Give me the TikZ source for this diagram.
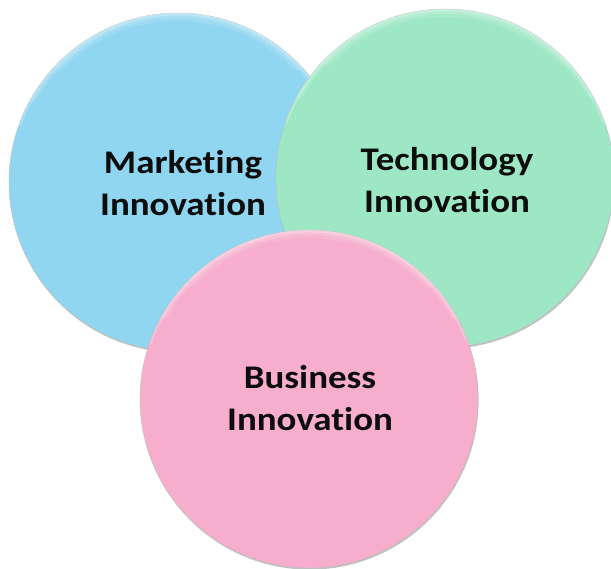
\documentclass[tikz,border=0pt]{standalone}
\usepackage{fontspec}
\setsansfont{Carlito}[Ligatures=NoCommon]
\usetikzlibrary{shadows,calc}

\definecolor{mktblue}{RGB}{144,214,241}
\definecolor{techgreen}{RGB}{158,231,197}
\definecolor{bizpink}{RGB}{246,174,204}

\tikzset{
  bubble/.style={circle, draw=black!25, line width=0.4pt, inner sep=0pt,
    minimum size=338pt,
    drop shadow={shadow xshift=0.6pt, shadow yshift=-1.6pt, opacity=0.35, fill=black!70}},
  lbl/.style={font=\sffamily\bfseries\fontsize{33}{41.5}\selectfont,
    align=center, text=black!95, inner sep=0pt, xscale=1.12},
  glow/.style={white, line cap=round},
}

% soft light band along the upper edge of a bubble
% (polar offsets with units are canvas directions, so 90 is up)
\newcommand{\rimlight}[1]{%
  \begin{scope}
    \clip (#1.center) circle (169pt);
    \draw[glow, line width=16pt, opacity=0.10]
      ($(#1.center)+(45:169pt)$) arc[start angle=45, end angle=135, radius=169pt];
    \draw[glow, line width=10pt, opacity=0.14]
      ($(#1.center)+(30:169pt)$) arc[start angle=30, end angle=150, radius=169pt];
    \draw[glow, line width=5pt, opacity=0.22]
      ($(#1.center)+(20:169pt)$) arc[start angle=20, end angle=160, radius=169pt];
  \end{scope}}

\begin{document}
\begin{tikzpicture}[x=1pt, y=-1pt]
  \useasboundingbox (0,0) rectangle (611,569);

  % the three overlapping circles, back to front
  \node[bubble, fill=mktblue] (mkt) at (178,182) {};
  \rimlight{mkt}
  \node[bubble, fill=techgreen] (tech) at (445,178) {};
  \rimlight{tech}
  \node[bubble, fill=bizpink] (biz) at (309,399) {};
  \rimlight{biz}

  % captions
  \node[lbl] (mktlbl)  at (183,183) {Marketing\\Innovation};
  \node[lbl] (techlbl) at (447,180) {Technology\\Innovation};
  \node[lbl] (bizlbl)  at (310,398) {Business\\Innovation};
\end{tikzpicture}
\end{document}
